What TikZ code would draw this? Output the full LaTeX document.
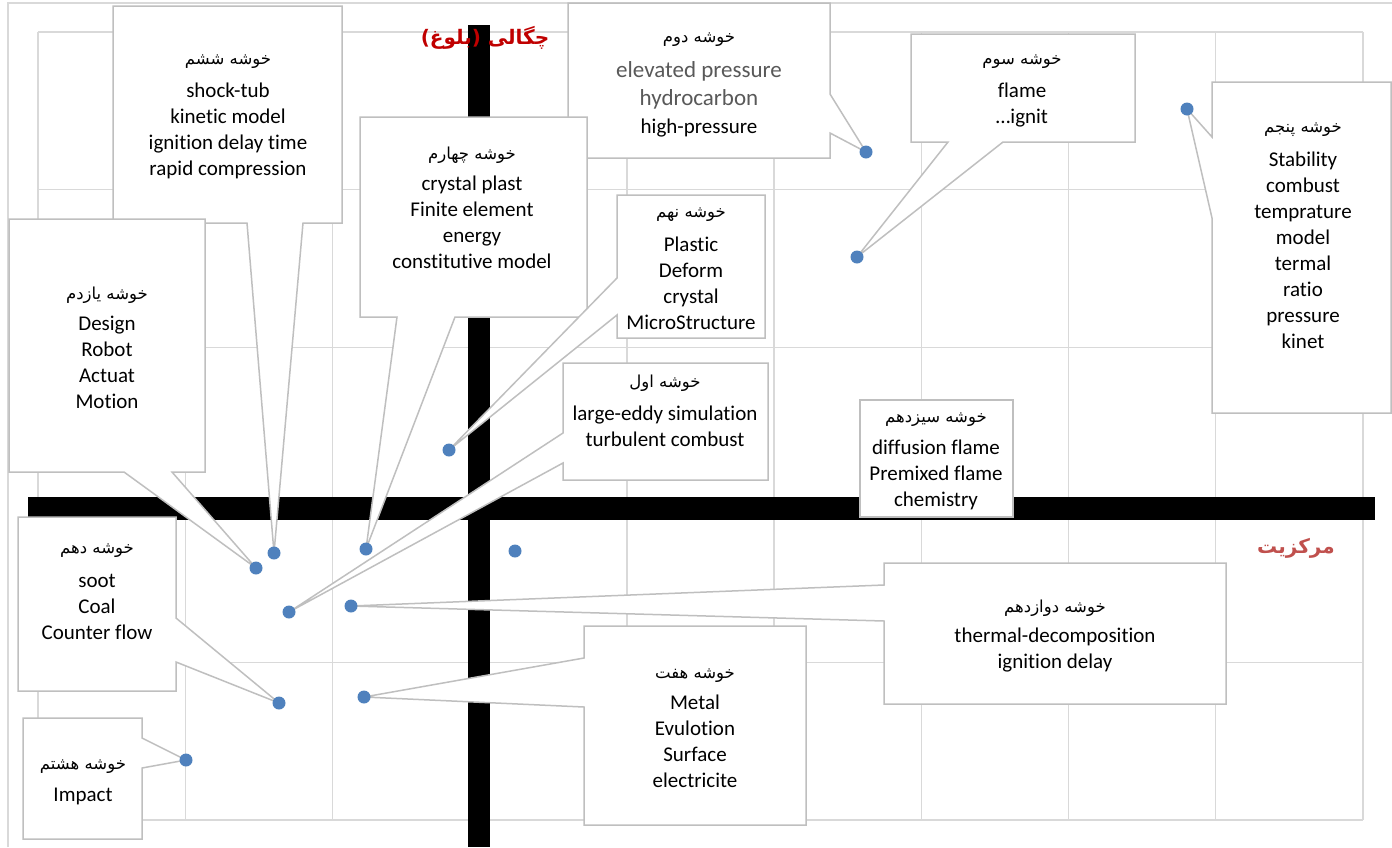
\documentclass[tikz,border=0pt]{standalone}
\usepackage{fontspec}
\setmainfont{Carlito}[Ligatures=CommonOff]
\newfontfamily\fafont[Script=Arabic]{DejaVu Sans}
\TeXXeTstate=1
\definecolor{gridgray}{HTML}{D9D9D9}
\definecolor{boxgray}{HTML}{BFBFBF}
\definecolor{dotblue}{HTML}{4F81BD}
\definecolor{titlered}{HTML}{C00000}
\definecolor{axisred}{HTML}{C0504D}
\definecolor{softgray}{HTML}{595959}
\begin{document}
\begin{tikzpicture}[x=1pt,y=-1pt,
    gridline/.style={draw=gridgray,line width=1.3pt},
    bar/.style={fill=black},
    callout/.style={draw=boxgray,fill=white,line width=1.5pt},
    dot/.style={fill=dotblue},
    kw/.style={align=center,inner sep=0pt,font=\fontsize{21}{26}\selectfont},
    fa/.style={inner sep=0pt,font=\fafont\fontsize{16.5}{19}\selectfont},
    axislabel/.style={inner sep=0pt,font=\fafont\bfseries\fontsize{20}{24}\selectfont}]
  \useasboundingbox (0,0) rectangle (1392,847);

  % chart frame and grid
  \draw[gridline] (8,847) -- (8,3) -- (1392,3);
  \foreach \i in {0,...,9}
    \draw[gridline] ({38+147.22*\i},32) -- ({38+147.22*\i},820);
  \foreach \j in {0,...,5}
    \draw[gridline] (38,{32+157.6*\j}) -- (1363,{32+157.6*\j});

  % the two axes
  \fill[bar] (28,497) rectangle (1375,520);
  \fill[bar] (468,25) rectangle (490,847);
  \node[axislabel,text=titlered] (density) at (485,38) {\beginR چگالی (بلوغ)\endR};
  \node[axislabel,text=axisred] (centrality) at (1296,548) {\beginR مرکزیت\endR};

  % cluster points
  \coordinate (d0) at (515,551);
  \coordinate (d1) at (289,612);
  \coordinate (d2) at (866,152);
  \coordinate (d3) at (857,257);
  \coordinate (d4) at (366,549);
  \coordinate (d5) at (1187,109);
  \coordinate (d6) at (274,553);
  \coordinate (d7) at (364,697);
  \coordinate (d8) at (186,760);
  \coordinate (d9) at (449,450);
  \coordinate (d10) at (279,703);
  \coordinate (d11) at (256,568);
  \coordinate (d12) at (351,606);

  % callouts
  \draw[callout] (568,3) -- (830,3) -- (830,94) -- (d2) -- (830,133) -- (830,158) -- (568,158) -- cycle;
  \node[fa] (t2) at (699,40) {\beginR خوشه دوم\endR};
  \node[kw,font=\fontsize{23}{28}\selectfont] (k2) at (699,99)
    {\textcolor{softgray}{elevated pressure}\\ \textcolor{softgray}{hydrocarbon}\\ {\fontsize{21}{28}\selectfont high-pressure}};

  \draw[callout] (360,117) -- (587,117) -- (587,317) -- (455,317) -- (d4) -- (397,317) -- (360,317) -- cycle;
  \node[fa] (t4) at (472,155) {\beginR خوشه چهارم\endR};
  \node[kw] (k4) at (472,222) {crystal plast\\ Finite element\\ energy\\ constitutive model};

  \draw[callout] (617,195) -- (765,195) -- (765,338) -- (617,338) -- (617,315) -- (d9) -- (617,278) -- cycle;
  \node[fa] (t9) at (691,215) {\beginR خوشه نهم\endR};
  \node[kw] (k9) at (691,283) {Plastic\\ Deform\\ crystal\\ MicroStructure};

  \draw[callout] (113,6) -- (342,6) -- (342,223) -- (303,223) -- (d6) -- (247,223) -- (113,223) -- cycle;
  \node[fa] (t6) at (228,62) {\beginR خوشه ششم\endR};
  \node[kw] (k6) at (228,131) {shock-tub\\ kinetic model\\ ignition delay time\\ rapid compression};

  \draw[callout] (9,219) -- (205,219) -- (205,472) -- (172,472) -- (d11) -- (124,472) -- (9,472) -- cycle;
  \node[fa] (t11) at (107,295) {\beginR خوشه یازدم\endR};
  \node[kw] (k11) at (107,362) {Design\\ Robot\\ Actuat\\ Motion};

  \draw[callout] (911,34) -- (1135,34) -- (1135,142) -- (1003,142) -- (d3) -- (948,142) -- (911,142) -- cycle;
  \node[fa] (t3) at (1022,62) {\beginR خوشه سوم\endR};
  \node[kw] (k3) at (1022,105.5) {flame\\ \ldots ignit};

  \draw[callout] (1212,82) -- (1391,82) -- (1391,413) -- (1212,413) -- (1212,218) -- (d5) -- (1212,137) -- cycle;
  \node[fa] (t5) at (1303,130) {\beginR خوشه پنجم\endR};
  \node[kw] (k5) at (1303,250.5) {Stability\\ combust\\ temprature\\ model\\ termal\\ ratio\\ pressure\\ kinet};

  \draw[callout] (563,363) -- (768,363) -- (768,480) -- (563,480) -- (563,463) -- (d1) -- (563,433) -- cycle;
  \node[fa] (t1) at (665,383) {\beginR خوشه اول\endR};
  \node[kw] (k1) at (665,426) {large-eddy simulation\\ turbulent combust};

  \draw[callout] (860,400) rectangle (1013,517);
  \node[fa] (t13) at (936,420) {\beginR خوشه سیزدهم\endR};
  \node[kw] (k13) at (936,475) {diffusion flame\\ Premixed flame\\ chemistry};

  \draw[callout] (884,563) -- (1226,563) -- (1226,704) -- (884,704) -- (884,621) -- (d12) -- (884,585) -- cycle;
  \node[fa] (t12) at (1055,608) {\beginR خوشه دوازدهم\endR};
  \node[kw] (k12) at (1055,650) {thermal-decomposition\\ ignition delay};

  \draw[callout] (584,626) -- (806,626) -- (806,825) -- (584,825) -- (584,707) -- (d7) -- (584,658) -- cycle;
  \node[fa] (t7) at (695,676) {\beginR خوشه هفت\endR};
  \node[kw] (k7) at (695,741) {Metal\\ Evulotion\\ Surface\\ electricite};

  \draw[callout] (18,517) -- (176,517) -- (176,618) -- (d10) -- (176,662) -- (176,691) -- (18,691) -- cycle;
  \node[fa] (t10) at (97,551) {\beginR خوشه دهم\endR};
  \node[kw] (k10) at (97,607) {soot\\ Coal\\ Counter flow};

  \draw[callout] (23,718) -- (142,718) -- (142,738) -- (d8) -- (142,768) -- (142,839) -- (23,839) -- cycle;
  \node[fa] (t8) at (83,767) {\beginR خوشه هشتم\endR};
  \node[kw] (k8) at (83,796) {Impact};

  % dots on top
  \foreach \d in {0,...,12}
    \fill[dot] (d\d) circle (6.5pt);
\end{tikzpicture}
\end{document}
